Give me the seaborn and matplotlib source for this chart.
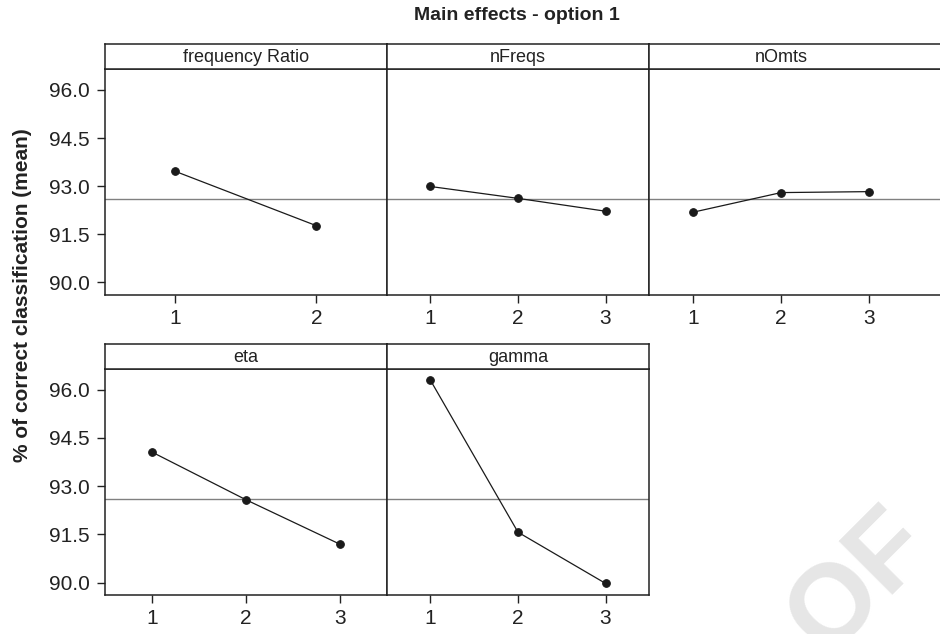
import numpy as np
import pandas as pd
import matplotlib
matplotlib.use("Agg")
import matplotlib.pyplot as plt
import seaborn as sns

# ---------------- data ----------------
title = "Main effects - option 1"
y_label = "% of correct classification (mean)"
factors = ["frequency Ratio", "nFreqs", "nOmts", "eta", "gamma"]
freq_ratio_levels = [1, 2]
freq_ratio_means = [93.46, 91.77]
nfreqs_levels = [1, 2, 3]
nfreqs_means = [92.99, 92.62, 92.22]
nomts_levels = [1, 2, 3]
nomts_means = [92.19, 92.80, 92.83]
eta_levels = [1, 2, 3]
eta_means = [94.06, 92.58, 91.20]
gamma_levels = [1, 2, 3]
gamma_means = [96.29, 91.57, 89.98]
grand_mean = 92.61
y_ticks = [90.0, 91.5, 93.0, 94.5, 96.0]
watermark = "OF"

levels = [freq_ratio_levels, nfreqs_levels, nomts_levels, eta_levels, gamma_levels]
means = [freq_ratio_means, nfreqs_means, nomts_means, eta_means, gamma_means]
df = pd.concat(
    [pd.DataFrame({"factor": f, "level": l, "mean": m}) for f, l, m in zip(factors, levels, means)],
    ignore_index=True,
)

# ---------------- style ----------------
sns.set_style("white")
plt.rcParams["font.family"] = ["Liberation Sans", "DejaVu Sans"]

W, H = 940, 634
fig = plt.figure(figsize=(W / 100, H / 100), dpi=100)

def rect(l, t, r, b):
    return [l / W, 1 - b / H, (r - l) / W, (b - t) / H]

cols = [(105, 386.7), (386.7, 649.3), (649.3, 940)]
rows = [(44, 69, 295), (344, 368.7, 595.3)]
positions = [(0, 0), (0, 1), (0, 2), (1, 0), (1, 1)]
frame_c = "#222222"
frame_lw = 1.1
ylim = (89.61, 96.65)

for f, (r, c) in zip(factors, positions):
    l, rr = cols[c]
    t, sb, b = rows[r]
    sub = df[df.factor == f]
    n = len(sub)
    xmax = n + 0.5 if c < 2 else 3.81

    ax = fig.add_axes(rect(l, sb, rr, b))
    ax.axhline(grand_mean, color="#808080", lw=1.0, zorder=1)
    sns.lineplot(data=sub, x="level", y="mean", ax=ax, color="#1a1a1a", lw=0.9,
                 marker="o", markersize=5.5, markeredgecolor="#1a1a1a",
                 estimator=None, zorder=3)
    ax.set_xlim(0.5, xmax)
    ax.set_ylim(*ylim)
    ax.set_xticks(sub["level"].tolist())
    ax.set_xticklabels([str(v) for v in sub["level"]])
    ax.set_xlabel("")
    ax.set_ylabel("")
    ax.tick_params(axis="x", direction="out", length=6, width=1, color=frame_c,
                   labelsize=15, labelcolor="#222222", pad=4, bottom=True)
    if c == 0:
        ax.set_yticks(y_ticks)
        ax.set_yticklabels([f"{v:.1f}" for v in y_ticks])
        ax.tick_params(axis="y", direction="out", length=6, width=1, color=frame_c,
                       labelsize=15, labelcolor="#222222", pad=5, left=True)
    else:
        ax.set_yticks(y_ticks)
        ax.tick_params(axis="y", left=False, labelleft=False)
    for s in ax.spines.values():
        s.set_color(frame_c)
        s.set_linewidth(frame_lw)
    if c == 2:
        ax.spines["right"].set_visible(False)

    sax = fig.add_axes(rect(l, t, rr, sb))
    sax.set_xticks([])
    sax.set_yticks([])
    for s in sax.spines.values():
        s.set_color(frame_c)
        s.set_linewidth(frame_lw)
    if c == 2:
        sax.spines["right"].set_visible(False)
    xc = 0.5 if c < 2 else (0.5 + (n + 0.5 - 0.5) / 2 - 0.5) / (xmax - 0.5)
    sax.text(xc, 0.45, f, ha="center", va="center", fontsize=13, color="#222222",
             transform=sax.transAxes)

fig.text(516.5 / W, 1 - 16 / H, title, ha="center", va="center",
         fontsize=14, fontweight="bold", color="#222222")
fig.text(23 / W, 1 - 295 / H, y_label, ha="center", va="center", rotation=90,
         fontsize=15, fontweight="bold", color="#222222")
fig.text(860 / W, 1 - 582 / H, watermark, ha="center", va="center", rotation=45,
         rotation_mode="anchor", fontsize=80, fontweight="bold", color="#e6e6e6",
         zorder=0)

fig.savefig("out.png", dpi=100)
